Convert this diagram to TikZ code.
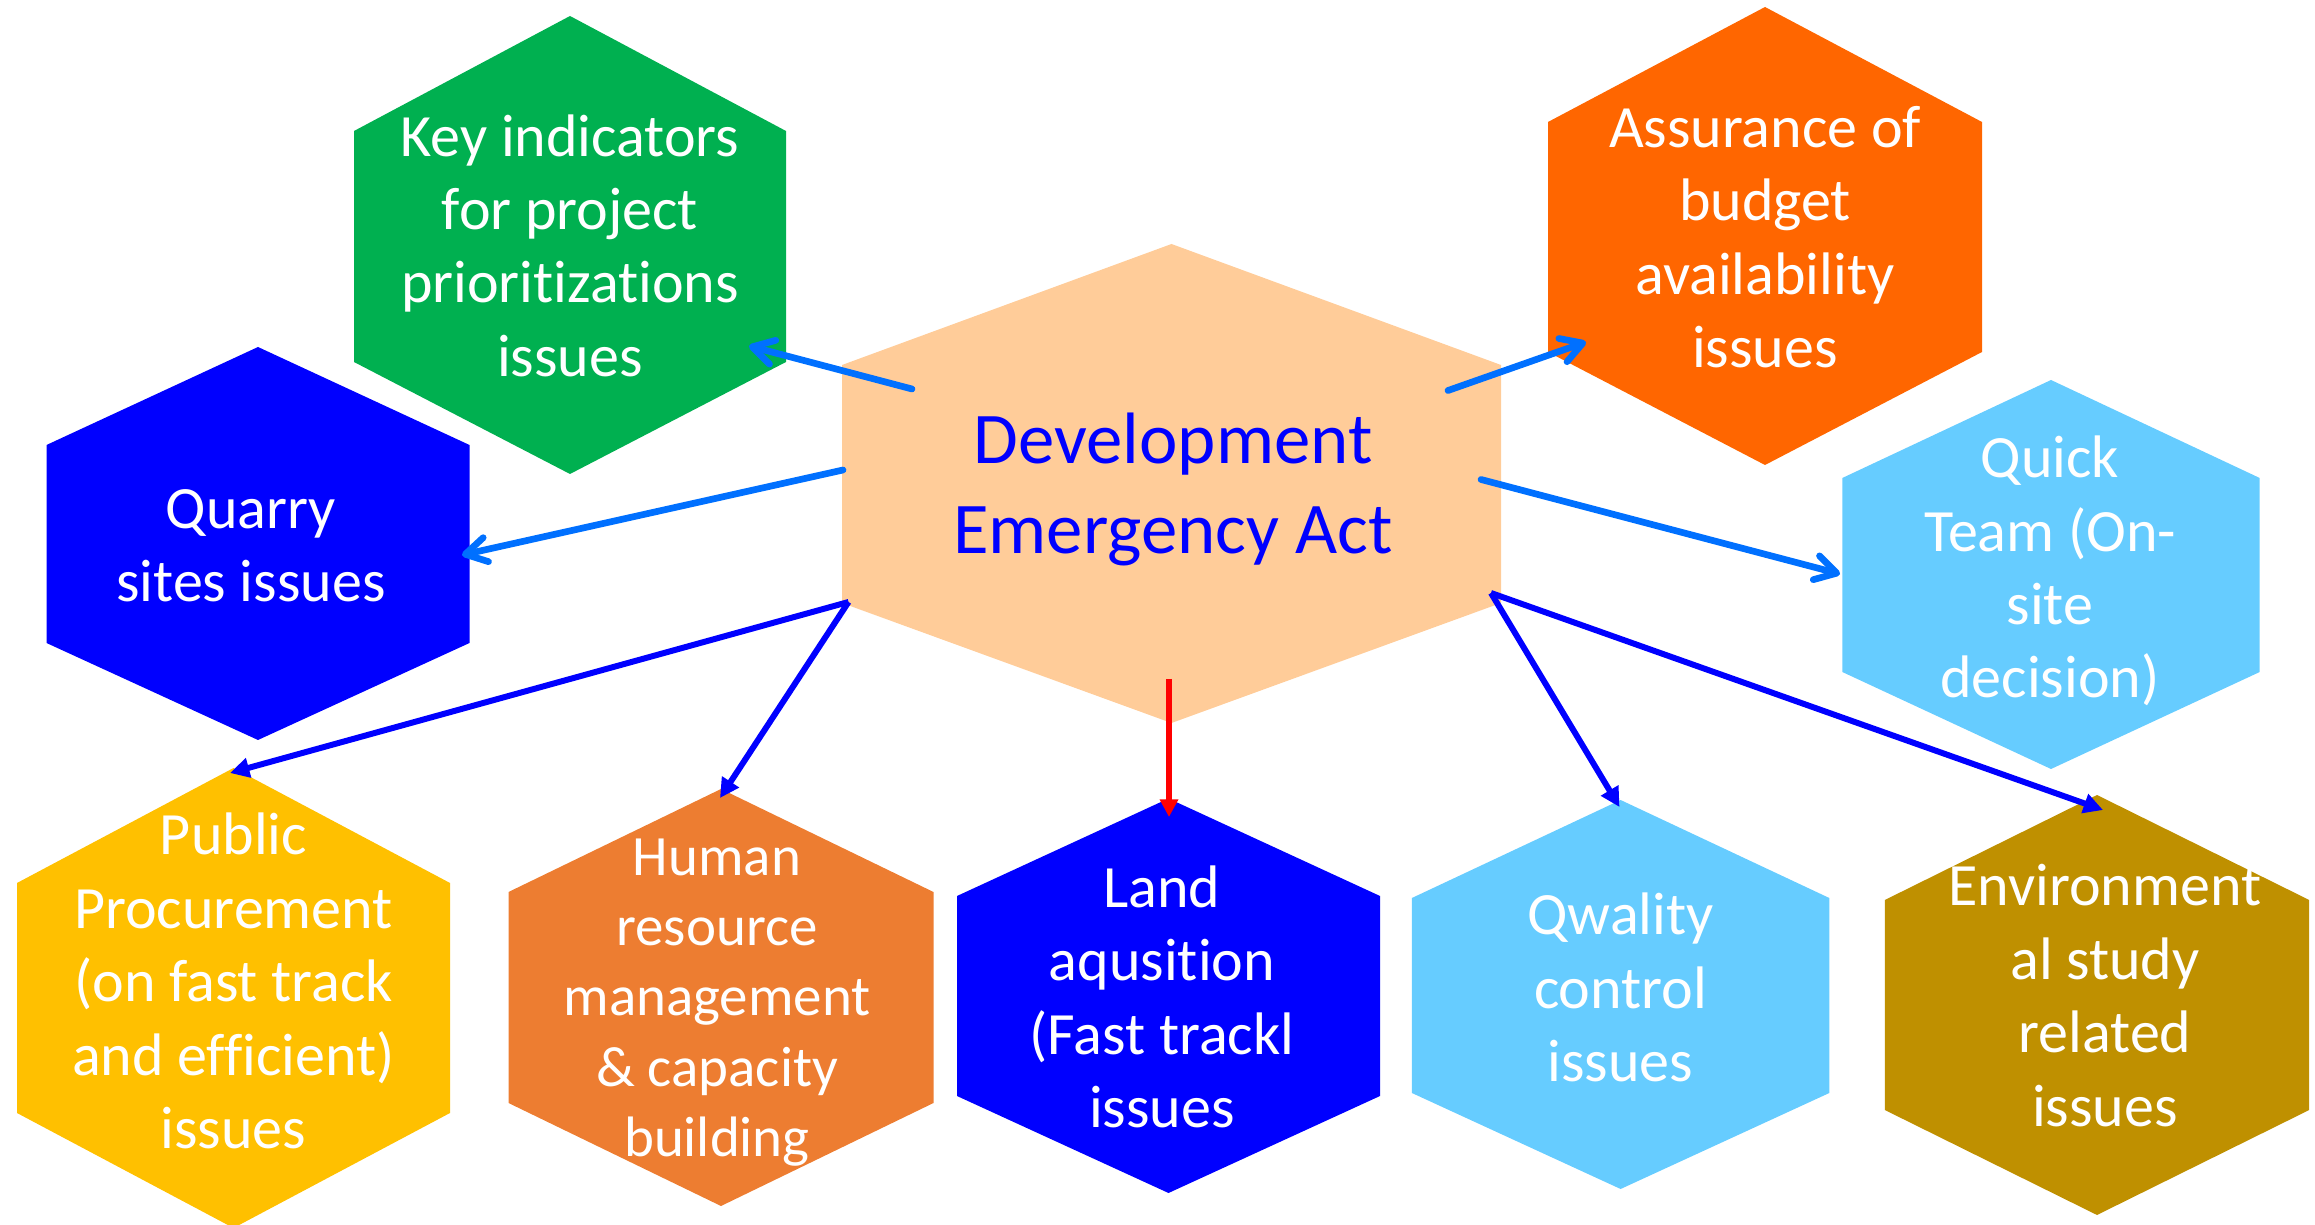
\documentclass[tikz,border=0pt]{standalone}
\usepackage{fontspec}
\setmainfont{Carlito}[RawFeature={-liga;-clig;-dlig;-calt}]
\usetikzlibrary{arrows.meta}
\definecolor{keygreen}{HTML}{00B050}
\definecolor{assurorange}{HTML}{FF6600}
\definecolor{peach}{HTML}{FFCC99}
\definecolor{deepblue}{HTML}{0000FF}
\definecolor{skyblue}{HTML}{66CCFF}
\definecolor{gold}{HTML}{FFC000}
\definecolor{hrorange}{HTML}{ED7D31}
\definecolor{envgold}{HTML}{BF9000}
\definecolor{arrowblue}{HTML}{0070FF}
\definecolor{redline}{HTML}{FF0000}
\newcommand\nolig{\kern0pt{}}
% cx, half width, top, side top, side bottom, bottom, colour
\newcommand\hexfill[7]{\fill[#7] (#1,#3) -- (#1+#2,#4) -- (#1+#2,#5) -- (#1,#6) -- (#1-#2,#5) -- (#1-#2,#4) -- cycle;}
\tikzset{
  lbl/.style={text=white, align=center, anchor=base, inner sep=0pt,
    font=\fontsize{17.07}{20.9}\selectfont},
  lblhr/.style={lbl, font=\fontsize{16.2}{20.0}\selectfont},
  lblmain/.style={lbl, text=deepblue, font=\fontsize{20.7}{25.6}\selectfont},
  lightarrow/.style={draw=arrowblue, line width=1.9pt, line cap=round,
    -{Straight Barb[length=6pt,width=7pt,line width=1.9pt,round]}},
  darkarrow/.style={draw=deepblue, line width=1.7pt, -{Triangle[length=5.5pt,width=5.5pt]}},
  redarrow/.style={draw=redline, line width=1.7pt, -{Triangle[length=5pt,width=5pt]}}
}
\begin{document}
\begin{tikzpicture}[x=0.01cm,y=-0.01cm]
\useasboundingbox (0,0) rectangle (2315,1225);
% hexagons
\hexfill{570}{216}{16}{131}{362}{474}{keygreen}
\hexfill{1765}{217}{7}{122}{352}{465}{assurorange}
\hexfill{1171.5}{329.5}{244}{365}{603}{723}{peach}
\hexfill{258}{211.5}{347}{445}{643}{740}{deepblue}
\hexfill{2051}{208.7}{380}{478}{672}{769}{skyblue}
\hexfill{233.5}{216.5}{768}{883}{1113}{1228}{gold}
\hexfill{721}{212.5}{789}{892}{1103}{1206}{hrorange}
\hexfill{1168.5}{211.5}{798.5}{896}{1096}{1193}{deepblue}
\hexfill{1620.6}{208.7}{800}{898}{1093}{1189}{skyblue}
\hexfill{2097}{212.2}{795}{900}{1110}{1215}{envgold}
% labels (anchored at the baseline of the last line)
\node[lblmain] (dea) at (1173,553.6) {Development\\Emergency Act};
\node[lbl] (key) at (570,376.5) {Key indicators\\for project\\priorit\nolig izat\nolig ions\\issues};
\node[lbl] (assur) at (1765,368) {Assurance of\\budget\\availability\\issues};
\node[lbl] (quarry) at (251,601.7) {Quarry\\sites issues};
\node[lbl] (quick) at (2050,698) {Quick\\Team (On-\\site\\decision)};
\node[lbl] (public) at (233.5,1148.6) {Public\\Procurement\\(on fast track\\and efficient)\\issues};
\node[lblhr] (human) at (717,1156.5) {Human\\resource\\management\\\& capacity\\building};
\node[lbl] (land) at (1162,1127.8) {Land\\aqusit\nolig ion\\(Fast trackl\\issues};
\node[lbl] (qwal) at (1620.5,1081.7) {Qwality\\control\\issues};
\node[lbl] (env) at (2105,1126) {Environment\\al study\\related\\issues};
% connector end points
\coordinate (s-key) at (912,389);
\coordinate (e-key) at (749,346);
\coordinate (s-assur) at (1448,390.5);
\coordinate (e-assur) at (1586,342);
\coordinate (s-quarry) at (843,470);
\coordinate (e-quarry) at (462,555);
\coordinate (s-quick) at (1481,479.5);
\coordinate (e-quick) at (1840,574);
\coordinate (s-left) at (848.5,602);
\coordinate (e-public) at (230,773);
\coordinate (e-human) at (720,798);
\coordinate (s-land) at (1169,679);
\coordinate (e-land) at (1169,817);
\coordinate (s-right) at (1491,593);
\coordinate (e-qwal) at (1619.5,807);
\coordinate (e-env) at (2103,810);
% connectors
\draw[lightarrow] (s-key) -- (e-key);
\draw[lightarrow] (s-assur) -- (e-assur);
\draw[lightarrow] (s-quarry) -- (e-quarry);
\draw[lightarrow] (s-quick) -- (e-quick);
\draw[darkarrow] (s-left) -- (e-public);
\draw[darkarrow] (s-left) -- (e-human);
\draw[redarrow] (s-land) -- (e-land);
\draw[darkarrow] (s-right) -- (e-qwal);
\draw[darkarrow] (s-right) -- (e-env);
\end{tikzpicture}
\end{document}
